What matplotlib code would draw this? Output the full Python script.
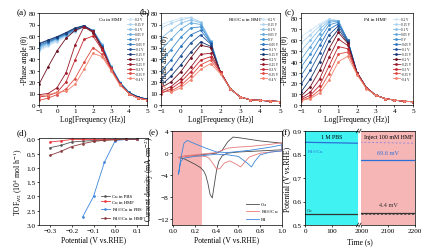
import matplotlib
matplotlib.use("Agg")
import matplotlib.pyplot as plt

plt.rcParams['font.family'] = ['Liberation Serif', 'DejaVu Serif']
plt.rcParams['mathtext.fontset'] = 'stix'
plt.rcParams['font.size'] = 5
plt.rcParams['axes.linewidth'] = 0.5
for ax_ in ('xtick', 'ytick'):
    plt.rcParams[ax_ + '.major.width'] = 0.5
    plt.rcParams[ax_ + '.major.size'] = 1.5
    plt.rcParams[ax_ + '.major.pad'] = 1
    plt.rcParams[ax_ + '.labelsize'] = 5.2

# ---- (a)-(c) Bode phase data ----
log_freq = [-1, -0.5, 0, 0.5, 1, 1.5, 2, 2.5, 3, 3.5, 4, 4.5, 5]
potentials = ['0.2 V', '0.15 V', '0.1 V', '0.05 V', '0 V', '-0.05 V', '-0.1 V',
              '-0.15 V', '-0.2 V', '-0.25 V', '-0.3 V', '-0.35 V', '-0.4 V']

phase_cu = [
    [47, 51, 55, 59, 63.5, 67.5, 65, 53, 34, 20, 11, 7, 5],
    [48, 52, 56, 60, 64, 68, 65, 53, 34, 20, 11, 7, 5],
    [49, 53, 57, 60.5, 64.5, 68, 65, 52.5, 33.5, 19.5, 11, 7, 5],
    [50, 54, 57.5, 61, 65, 68.5, 65, 52, 33, 19.5, 11, 7, 5],
    [51, 54.5, 58, 61.5, 65.5, 68.5, 64.5, 51.5, 33, 19, 11, 7, 5],
    [52, 55, 58.5, 62, 66, 69, 64.5, 51, 32.5, 19, 10.5, 7, 5],
    [53, 56, 59, 62.5, 66.5, 69, 64, 50.5, 32, 19, 10.5, 7, 5],
    [53.5, 56.5, 59.5, 63, 67, 69, 64, 50, 32, 18.5, 10.5, 7, 5],
    [18, 33, 47, 58, 65, 68, 63, 49, 31, 18, 10, 6, 4.5],
    [9, 10, 15, 28, 52, 68, 64, 50, 32, 18, 10, 6, 4.5],
    [7, 8, 11, 20, 39, 57, 60, 48, 32, 18, 10, 6, 4.5],
    [4, 6, 9, 14, 23, 37, 50, 44, 31, 18, 10, 6, 4.5],
    [8, 9, 11, 12, 18, 31, 45, 42, 30, 17, 10, 6, 4.5],
]

phase_pdcu = [
    [70, 73, 75.5, 76.5, 72, 56, 28, 14, 7, 4.5, 4, 3.5, 3],
    [67, 71, 74, 76, 72, 56, 28, 14, 7, 4.5, 4, 3.5, 3],
    [58, 65, 71, 74, 71.5, 56, 28, 14, 7, 4.5, 4, 3.5, 3],
    [48, 57, 66, 71.5, 70, 55, 28, 14, 7, 4.5, 4, 3.5, 3],
    [38, 48, 59, 67, 68, 55, 28, 14, 7, 4.5, 4, 3.5, 3],
    [29, 39, 51, 61, 65, 54, 28, 14, 7, 4.5, 4, 3.5, 3],
    [22, 31, 43, 54, 61, 53, 28, 14, 7, 4.5, 4, 3.5, 3],
    [17, 25, 35, 46, 55, 51, 28, 14, 7, 4.5, 4, 3.5, 3],
    [15, 20, 29, 41, 52, 50, 29, 14, 7, 4.5, 4, 3.5, 3],
    [12, 16, 23, 33, 44, 45, 29, 14, 7, 4.5, 4, 3.5, 3],
    [10, 14, 20, 29, 39, 42, 29, 14, 7, 4.5, 4, 3.5, 3],
    [12, 12, 17, 25, 35, 39, 28, 14, 7, 4.5, 4, 3.5, 3],
    [18, 11, 15, 22, 31, 36, 27, 14, 7, 4.5, 4, 3.5, 3],
]

phase_pd = [
    [63, 69, 75, 79.5, 78, 60, 30, 16, 9, 6, 4.5, 3.5, 3],
    [57, 65, 73, 79, 78, 60, 30, 16, 9, 6, 4.5, 3.5, 3],
    [50, 60, 70, 78, 78, 60, 30, 16, 9, 6, 4.5, 3.5, 3],
    [42, 54, 66, 76.5, 77.5, 60, 30, 16, 9, 6, 4.5, 3.5, 3],
    [35, 47, 61, 74, 76.5, 60, 30, 16, 9, 6, 4.5, 3.5, 3],
    [27, 40, 55, 70, 75, 60, 30, 16, 9, 6, 4.5, 3.5, 3],
    [19, 32, 48, 65, 73, 59, 30, 16, 9, 6, 4.5, 3.5, 3],
    [12, 24, 40, 59, 70, 58, 30, 16, 9, 6, 4.5, 3.5, 3],
    [8, 17, 32, 52, 67, 57, 30, 16, 9, 6, 4.5, 3.5, 3],
    [6, 12, 24, 44, 61, 55, 30, 16, 9, 6, 4.5, 3.5, 3],
    [5, 9, 18, 36, 54, 52, 29, 16, 9, 6, 4.5, 3.5, 3],
    [4, 7, 14, 29, 47, 49, 29, 16, 9, 6, 4.5, 3.5, 3],
    [4, 6, 11, 23, 40, 45, 28, 15, 9, 6, 4.5, 3.5, 3],
]

pot_colors = ['#cfe5f6', '#aed3f0', '#88bfe8', '#62a8de', '#3f90d2', '#2c74bc',
              '#22569c', '#193872', '#6a1020', '#981828', '#c2282f', '#df4c42',
              '#f2846e']

# ---- (d) TOF ----
tof_pot = [-0.3, -0.25, -0.2, -0.15, -0.1, -0.05, 0.0, 0.05, 0.1]
tof_cu_pbs = [0.29, 0.21, 0.09, 0.06, 0.04, 0.02, 0.01, 0.0, 0.0]
tof_cu_hmf = [0.09, 0.05, 0.0, 0.0, 0.0, 0.0, 0.0, 0.0, 0.0]
tof_pdcu_pbs_pot = [-0.15, -0.1, -0.05, 0.0, 0.05, 0.1]
tof_pdcu_pbs = [2.72, 2.0, 0.8, 0.04, 0.0, 0.0]
tof_pdcu_hmf = [0.56, 0.42, 0.25, 0.15, 0.07, 0.03, 0.01, 0.0, 0.0]

# ---- (e) CV ----
cv_cu_x = [0.05, 0.1, 0.2, 0.3, 0.4, 0.45, 0.5, 0.55, 0.6, 0.7, 0.8, 0.9, 1.0,
           1.0, 0.9, 0.8, 0.7, 0.6, 0.5, 0.45, 0.42, 0.4, 0.38, 0.36, 0.34,
           0.32, 0.3, 0.28, 0.25, 0.2, 0.15, 0.1, 0.05]
cv_cu_y = [-0.8, -0.6, -0.4, -0.2, 0.0, 0.5, 2.0, 2.9, 2.8, 2.5, 2.2, 2.0, 1.8,
           0.6, 0.5, 0.4, 0.3, 0.2, 0.0, -0.5, -1.5, -3.0, -5.5, -8.1, -7.5,
           -5.5, -4.0, -3.2, -2.6, -2.0, -1.5, -1.0, -0.8]
cv_pdcu_x = [0.05, 0.1, 0.2, 0.3, 0.4, 0.45, 0.5, 0.6, 0.7, 0.8, 0.9, 1.0,
             1.0, 0.9, 0.8, 0.7, 0.65, 0.62, 0.58, 0.52, 0.47, 0.43, 0.4, 0.37,
             0.33, 0.3, 0.2, 0.1, 0.05]
cv_pdcu_y = [-0.8, -0.5, -0.3, -0.1, 0.1, 0.5, 0.9, 1.1, 1.2, 1.4, 1.6, 1.9,
             0.4, 0.2, 0.0, -0.7, -1.8, -2.5, -2.0, -1.4, -1.8, -2.8, -2.9, -2.0,
             -0.9, -0.6, -0.5, -0.6, -0.8]
cv_pd_x = [0.05, 0.07, 0.1, 0.13, 0.2, 0.3, 0.4, 0.5, 0.6, 0.7, 0.8, 0.9, 1.0,
           1.0, 0.9, 0.8, 0.75, 0.72, 0.68, 0.6, 0.5, 0.4, 0.3, 0.2, 0.1, 0.07, 0.05]
cv_pd_y = [-3.8, -1.0, 1.8, 2.3, 1.7, 0.9, 0.2, 0.1, 0.3, 0.5, 0.8, 1.1, 1.5,
           0.4, 0.2, -0.3, -1.5, -2.5, -1.8, -0.6, -0.3, -0.2, -0.4, -0.6, -0.9, -1.5, -3.8]

# ---- (f) OCP ----
t_pbs = [0, 200]
pdcu_pbs = [0.852, 0.848]
cu_pbs = [0.547, 0.547]
t_hmf = [1997, 2200]
pdcu_hmf = [0.778, 0.778]
cu_hmf = [0.551, 0.551]

fig = plt.figure(figsize=(4.29, 2.53), dpi=100)


def box(l, t, r, b):
    W, H = 429.0, 253.0
    return [l / W, 1 - b / H, (r - l) / W, (b - t) / H]


def bode(ax, data, title, ymax):
    for vals, lab, col in zip(data, potentials, pot_colors):
        ax.plot(log_freq, vals, '-o', color=col, lw=0.6, ms=1.0, label=lab)
    ax.set_xlim(-1, 5)
    ax.set_ylim(0, ymax)
    ax.set_xticks(range(-1, 6))
    ax.set_yticks(range(0, 81, 10))
    ax.set_xlabel('Log[Frequency (Hz)]', fontsize=5.5, labelpad=1)
    ax.set_ylabel('-Phase angle (θ)', fontsize=5.5, labelpad=1)
    ax.legend(loc='upper right', bbox_to_anchor=(1.0, 0.975), fontsize=2.3,
              frameon=False, handlelength=2.2, labelspacing=0.3,
              borderaxespad=0.15, handletextpad=0.4)
    ax.text(0.56, 0.93, title, transform=ax.transAxes, fontsize=3.6, ha='left', va='center')


ax_a = fig.add_axes(box(39, 14, 147, 106))
bode(ax_a, phase_cu, 'Cu in HMF', 80)
ax_a.yaxis.set_label_coords(-0.09, 0.5)
ax_b = fig.add_axes(box(161, 14, 280, 106))
bode(ax_b, phase_pdcu, 'Pd$_{0.3}$Cu in HMF', 80)
ax_b.yaxis.set_label_coords(0.07, 0.5)
ax_c = fig.add_axes(box(301, 14, 413, 106))
bode(ax_c, phase_pd, 'Pd in HMF', 85)

# (d)
ax_d = fig.add_axes(box(39, 139, 148, 226))
ax_d.plot(tof_pot, tof_cu_pbs, '-o', color='#555555', lw=0.6, ms=0.9, label='Cu in PBS')
ax_d.plot(tof_pot, tof_cu_hmf, '-o', color='#e8363c', lw=0.6, ms=0.9, label='Cu in HMF')
ax_d.plot(tof_pdcu_pbs_pot, tof_pdcu_pbs, '-o', color='#3d86dc', lw=0.6, ms=0.9,
          label='Pd$_{0.3}$Cu in PBS')
ax_d.plot(tof_pot, tof_pdcu_hmf, '-o', color='#8a3a3c', lw=0.6, ms=0.9,
          label='Pd$_{0.3}$Cu in HMF')
ax_d.set_xlim(-0.35, 0.15)
ax_d.set_ylim(3.0, -0.05)
ax_d.set_xticks([-0.3, -0.2, -0.1, 0.0, 0.1])
ax_d.set_yticks([0.0, 0.5, 1.0, 1.5, 2.0, 2.5, 3.0])
ax_d.set_yticklabels(['0.0', '0.5', '1.0', '1.5', '2.0', '2.5', '3.0'])
ax_d.set_xlabel('Potential (V vs.RHE)', fontsize=5.5, labelpad=1)
ax_d.set_ylabel('TOF$_{H2}$ (10$^4$ mol h$^{-1}$)', fontsize=5.5, labelpad=1)
ax_d.legend(loc='lower right', fontsize=3.4, frameon=False, handlelength=2.0,
            labelspacing=0.3, borderaxespad=0.2, handletextpad=0.4)

# (e)
ax_e = fig.add_axes(box(172, 132, 282, 226))
ax_e.axvspan(0.0, 0.27, color='#f6b4b4', lw=0)
ax_e.plot(cv_cu_x, cv_cu_y, color='#4a4a4a', lw=0.6, label='Cu')
ax_e.plot(cv_pdcu_x, cv_pdcu_y, color='#e87a7a', lw=0.6, label='Pd$_{0.3}$Cu')
ax_e.plot(cv_pd_x, cv_pd_y, color='#3d86dc', lw=0.6, label='Pd')
ax_e.set_xlim(-0.01, 1.0)
ax_e.set_ylim(-13, 4)
ax_e.set_yticks([4, 0, -4, -8, -12])
ax_e.set_xticks([0.0, 0.2, 0.4, 0.6, 0.8, 1.0])
ax_e.set_xlabel('Potential (V vs.RHE)', fontsize=5.5, labelpad=1)
ax_e.set_ylabel('Current density (mA cm$^{-2}$)', fontsize=5.5, labelpad=1)
ax_e.legend(loc='lower right', fontsize=3.6, frameon=False, handlelength=2.5,
            labelspacing=0.3, borderaxespad=0.3, handletextpad=0.4)

# (f) broken time axis
ax_f1 = fig.add_axes(box(305, 132, 358, 226))
ax_f2 = fig.add_axes(box(360.5, 132, 415, 226))
ax_f1.set_facecolor('#40f2f2')
ax_f2.set_facecolor('#f7b6b6')
ax_f1.plot(t_pbs, pdcu_pbs, color='#2d6fd8', lw=0.9)
ax_f1.plot(t_pbs, cu_pbs, color='#333333', lw=0.9)
ax_f2.plot(t_hmf, pdcu_pbs, color='#9a8ad8', lw=0.7, ls=(0, (2, 2)))
ax_f2.plot(t_hmf, cu_pbs, color='#555555', lw=0.7, ls=(0, (2, 2)))
ax_f2.plot(t_hmf, pdcu_hmf, color='#2d6fd8', lw=0.9)
ax_f2.plot(t_hmf, cu_hmf, color='#333333', lw=0.9)
ax_f1.vlines(t_pbs[1], pdcu_hmf[0], pdcu_pbs[1], color='#2d6fd8', lw=0.9)
for a in (ax_f1, ax_f2):
    a.set_ylim(0.5, 0.9)
ax_f1.set_xlim(0, 200)
ax_f2.set_xlim(t_hmf[0], 2200)
ax_f1.set_xticks([0, 100])
ax_f2.set_xticks([2000, 2100, 2200])
ax_f1.set_yticks([0.5, 0.6, 0.7, 0.8, 0.9])
ax_f2.set_yticks([])
ax_f1.spines['right'].set_visible(False)
ax_f2.spines['left'].set_visible(False)
ax_f1.set_ylabel('Potential (V vs.RHE)', fontsize=5.5, labelpad=1)
fig.text(box(305, 0, 415, 0)[0] + box(305, 0, 415, 0)[2] / 2, 0.025, 'Time (s)',
         fontsize=5.5, ha='center', va='bottom')
for a, xs in ((ax_f1, 1.0), (ax_f2, 0.0)):
    for ys in (0.0, 1.0):
        a.plot([xs - 0.03, xs + 0.01], [ys - 0.02, ys + 0.02], transform=a.transAxes,
               color='k', lw=0.5, clip_on=False)
ax_f1.text(100, 0.875, '1 M PBS', fontsize=4.2, ha='center', va='center')
ax_f2.text(2100, 0.875, 'Inject 100 mM HMF', fontsize=4.2, ha='center', va='center')
ax_f1.text(8, 0.815, 'Pd$_{0.3}$Cu', fontsize=3.4, color='#2d6fd8', ha='left', va='center')
ax_f1.text(8, 0.565, 'Cu', fontsize=3.4, color='#333333', ha='left', va='center')
ax_f2.text(2100, 0.807, '69.6 mV', fontsize=4.5, color='#2d6fd8', ha='center', va='center')
ax_f2.text(2100, 0.588, '4.4 mV', fontsize=4.5, color='#333333', ha='center', va='center')

# panel letters
for lab, x, y in (('(a)', 17, 13), ('(b)', 140, 12), ('(c)', 285, 13),
                  ('(d)', 17, 133), ('(e)', 149, 133), ('(f)', 282, 133)):
    fig.text(x / 429, 1 - y / 253, lab, fontsize=6.6, ha='left', va='center')

fig.savefig('out.png', dpi=100)
